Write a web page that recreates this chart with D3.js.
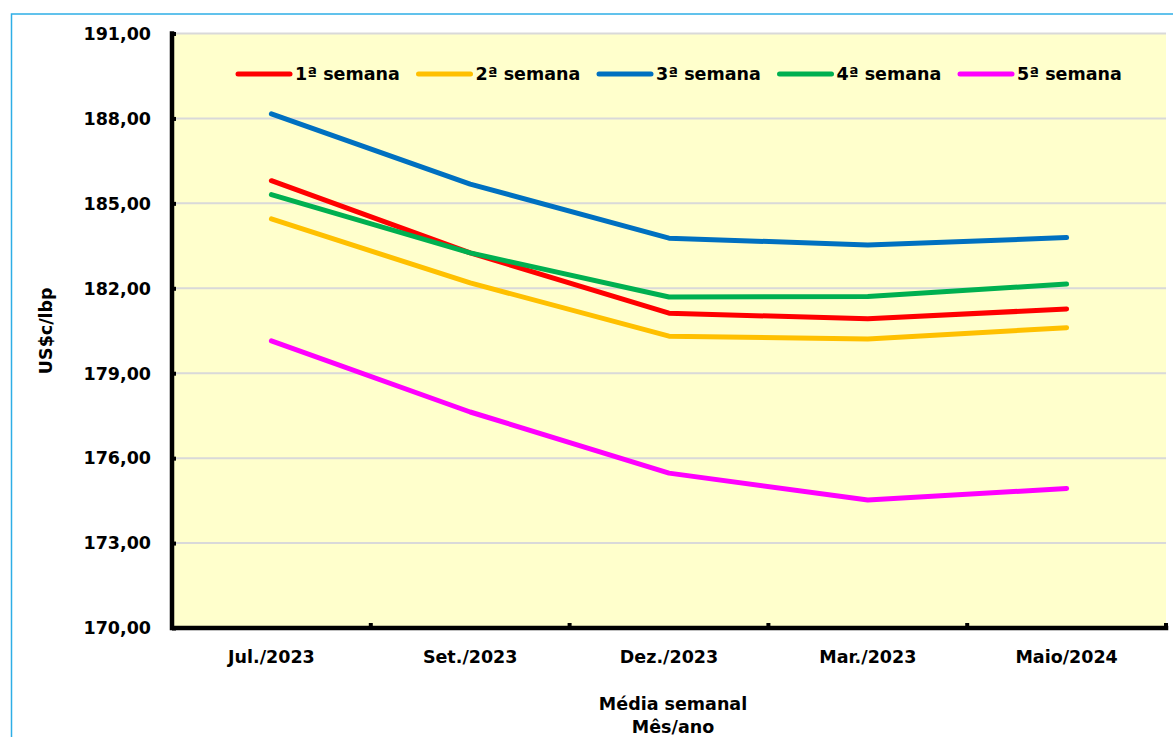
<!DOCTYPE html>
<meta charset="utf-8">
<style>

body {
  margin: 0;
  background: #fff;
}

text {
  font-family: "DejaVu Sans", sans-serif;
  font-weight: bold;
  font-size: 17.5px;
  fill: #000;
}

.series {
  fill: none;
  stroke-width: 5px;
  stroke-linejoin: round;
  stroke-linecap: round;
}

</style>
<body>
<script src="https://cdnjs.cloudflare.com/ajax/libs/d3/7.8.5/d3.min.js"></script>
<script>

var width = 1173,
    height = 737;

var months = ["Jul./2023", "Set./2023", "Dez./2023", "Mar./2023", "Maio/2024"];

var semana1 = [185.80, 183.25, 181.12, 180.92, 181.27],
    semana2 = [184.45, 182.19, 180.31, 180.21, 180.61],
    semana3 = [188.16, 185.68, 183.77, 183.53, 183.79],
    semana4 = [185.31, 183.25, 181.69, 181.71, 182.15],
    semana5 = [180.14, 177.63, 175.47, 174.52, 174.93];

var seriesNames = ["1ª semana", "2ª semana", "3ª semana", "4ª semana", "5ª semana"],
    seriesColors = ["#ff0000", "#ffc000", "#0070c0", "#00b050", "#ff00ff"];

var yTicks = [170, 173, 176, 179, 182, 185, 188, 191];

var series = [semana1, semana2, semana3, semana4, semana5].map(function(v, i) {
  return { name: seriesNames[i], color: seriesColors[i], values: v };
});

var margin = { left: 172, right: 7, top: 33.5, bottom: 109 };

var x = d3.scaleBand()
    .domain(months)
    .range([margin.left, width - margin.right]);

var y = d3.scaleLinear()
    .domain([170, 191])
    .range([height - margin.bottom, margin.top]);

var fmt = function(d) { return d3.format(".2f")(d).replace(".", ","); };

var svg = d3.select("body").append("svg")
    .attr("width", width)
    .attr("height", height);

// outer frame
svg.append("rect")
    .attr("x", 11.5)
    .attr("y", 14)
    .attr("width", width + 20)
    .attr("height", height + 20)
    .attr("fill", "none")
    .attr("stroke", "#2eaee6")
    .attr("stroke-width", 1.5);

// plot background
svg.append("rect")
    .attr("x", x.range()[0])
    .attr("y", y(191))
    .attr("width", x.range()[1] - x.range()[0])
    .attr("height", y(170) - y(191))
    .attr("fill", "#ffffcc");

// gridlines
svg.append("g")
  .selectAll("line")
    .data(yTicks.slice(1))
  .enter().append("line")
    .attr("x1", x.range()[0])
    .attr("x2", x.range()[1])
    .attr("y1", function(d) { return y(d); })
    .attr("y2", function(d) { return y(d); })
    .attr("stroke", "#d9d9d9")
    .attr("stroke-width", 2);

// y axis
var yAxis = svg.append("g")
    .attr("transform", "translate(" + margin.left + ",0)")
    .call(d3.axisRight(y).tickValues(yTicks).tickSize(4).tickFormat(""));
yAxis.select(".domain").remove();
yAxis.selectAll(".tick line").attr("stroke", "#000").attr("stroke-width", 4);

svg.append("g")
  .selectAll("text")
    .data(yTicks)
  .enter().append("text")
    .attr("x", margin.left - 21)
    .attr("y", function(d) { return y(d); })
    .attr("dy", "0.36em")
    .attr("text-anchor", "end")
    .text(fmt);

// x axis ticks at band boundaries
var bounds = months.map(function(m) { return x(m) + x.bandwidth(); });
svg.append("g")
  .selectAll("line")
    .data(bounds)
  .enter().append("line")
    .attr("x1", function(d) { return d; })
    .attr("x2", function(d) { return d; })
    .attr("y1", y(170))
    .attr("y2", y(170) - 5)
    .attr("stroke", "#000")
    .attr("stroke-width", 4);

svg.append("g")
  .selectAll("text")
    .data(months)
  .enter().append("text")
    .attr("x", function(d) { return x(d) + x.bandwidth() / 2; })
    .attr("y", y(170) + 35)
    .attr("text-anchor", "middle")
    .text(function(d) { return d; });

// axis lines
svg.append("path")
    .attr("d", "M" + margin.left + "," + y(191) + "V" + y(170) + "H" + x.range()[1])
    .attr("fill", "none")
    .attr("stroke", "#000")
    .attr("stroke-width", 4.5)
    .attr("stroke-linecap", "square");

// series lines
var line = d3.line()
    .x(function(d, i) { return x(months[i]) + x.bandwidth() / 2; })
    .y(function(d) { return y(d); });

svg.append("g")
  .selectAll("path")
    .data(series)
  .enter().append("path")
    .attr("class", "series")
    .attr("stroke", function(d) { return d.color; })
    .attr("d", function(d) { return line(d.values); });

// legend
var legend = svg.append("g")
  .selectAll("g")
    .data(series)
  .enter().append("g")
    .attr("transform", function(d, i) { return "translate(" + (238 + i * 180.5) + ",74)"; });

legend.append("line")
    .attr("x1", 0)
    .attr("x2", 52)
    .attr("stroke", function(d) { return d.color; })
    .attr("stroke-width", 5)
    .attr("stroke-linecap", "round");

legend.append("text")
    .attr("x", 57)
    .attr("dy", "0.36em")
    .text(function(d) { return d.name; });

// axis titles
svg.append("text")
    .attr("transform", "translate(52," + ((y(170) + y(191)) / 2) + ")rotate(-90)")
    .attr("text-anchor", "middle")
    .text("US$c/lbp");

svg.append("text")
    .attr("x", 673)
    .attr("y", 710)
    .attr("text-anchor", "middle")
    .text("Média semanal");

svg.append("text")
    .attr("x", 673)
    .attr("y", 733)
    .attr("text-anchor", "middle")
    .text("Mês/ano");

</script>
